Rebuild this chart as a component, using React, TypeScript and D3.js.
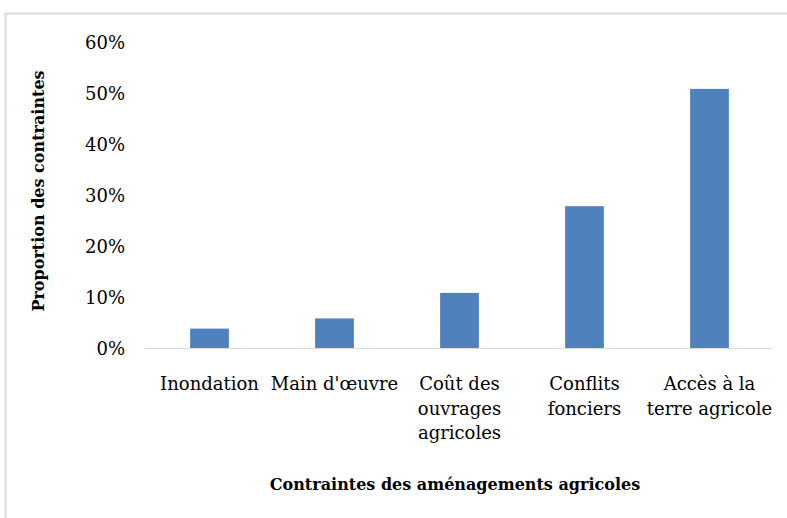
import React from "react";
import * as d3 from "d3";

const categories: string[][] = [
  ["Inondation"],
  ["Main d'œuvre"],
  ["Coût des", "ouvrages", "agricoles"],
  ["Conflits", "fonciers"],
  ["Accès à la", "terre agricole"],
];
const values: number[] = [0.04, 0.06, 0.11, 0.28, 0.51];
const yTicks: number[] = [0, 0.1, 0.2, 0.3, 0.4, 0.5, 0.6];

const W = 787;
const H = 518;
const FONT = "'DejaVu Serif', serif";

export default function App() {
  const x = d3
    .scaleBand<number>()
    .domain(d3.range(values.length))
    .range([147, 772])
    .paddingInner(0.69)
    .paddingOuter(0.345);
  const y = d3.scaleLinear().domain([0, 0.6]).range([349, 43]);
  const fmt = d3.format(".0%");

  return (
    <div style={{ position: "fixed", left: 0, top: 0, width: W, height: H, background: "#fff" }}>
      <svg width={W} height={H} style={{ display: "block" }}>
        <rect x={0} y={0} width={W} height={H} fill="#fff" />
        <path d={`M5.5,${H} V13.5 H${W}`} fill="none" stroke="#d9d9d9" strokeWidth={2} />
        {yTicks.map((t) => (
          <text
            key={t}
            x={125}
            y={y(t)}
            dy="0.35em"
            textAnchor="end"
            fontFamily={FONT}
            fontSize={18}
            fill="#000"
          >
            {fmt(t)}
          </text>
        ))}
        {values.map((v, i) => (
          <rect
            key={i}
            x={x(i)}
            y={y(v)}
            width={x.bandwidth()}
            height={y(0) - y(v)}
            fill="#4F81BD"
          />
        ))}
        <line x1={145} x2={772} y1={348.5} y2={348.5} stroke="#d9d9d9" strokeWidth={1} />
        {categories.map((lines, i) => (
          <text
            key={i}
            x={(x(i) as number) + x.bandwidth() / 2}
            y={390}
            textAnchor="middle"
            fontFamily={FONT}
            fontSize={18}
            fill="#000"
          >
            {lines.map((l, j) => (
              <tspan key={j} x={(x(i) as number) + x.bandwidth() / 2} dy={j === 0 ? 0 : 24.5}>
                {l}
              </tspan>
            ))}
          </text>
        ))}
        <text
          transform={`translate(44,191) rotate(-90)`}
          textAnchor="middle"
          fontFamily={FONT}
          fontSize={16}
          fontWeight="bold"
          fill="#000"
        >
          Proportion des contraintes
        </text>
        <text
          x={455}
          y={490}
          textAnchor="middle"
          fontFamily={FONT}
          fontSize={16}
          fontWeight="bold"
          fill="#000"
        >
          Contraintes des aménagements agricoles
        </text>
      </svg>
    </div>
  );
}
